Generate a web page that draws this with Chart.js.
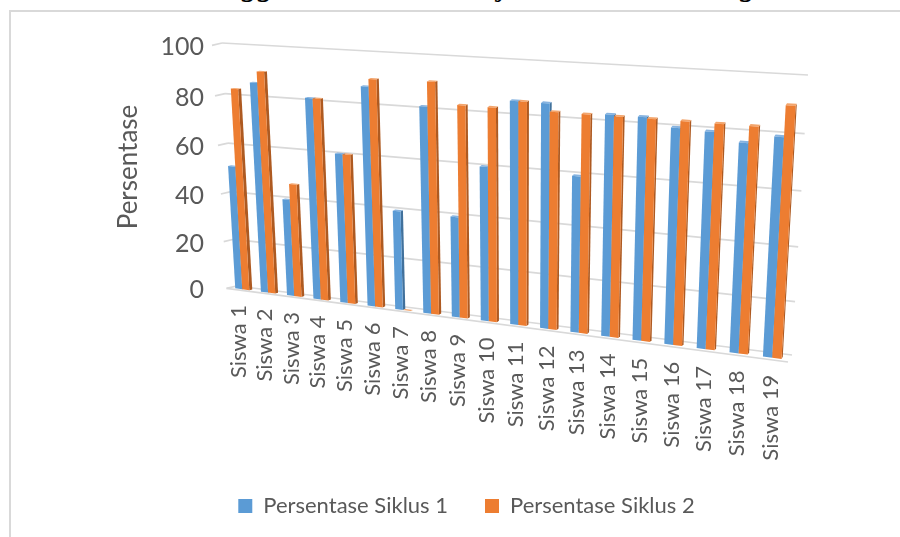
<!DOCTYPE html>
<html>
<head>
<meta charset="utf-8">
<script src="https://cdn.jsdelivr.net/npm/chart.js@4.4.1/dist/chart.umd.min.js"></script>
<style>
  html, body { margin: 0; padding: 0; width: 900px; height: 537px; overflow: hidden; background: #fff; }
  #frame { position: absolute; left: 9px; top: 10px; width: 1000px; height: 1000px;
           border-left: 2px solid #d9d9d9; border-top: 2px solid #d9d9d9; }
  #caption { position: absolute; left: 192px; top: -32px; font: italic 32px "Liberation Serif", serif;
             line-height: 32px; color: #000; white-space: nowrap; }
  canvas { position: absolute; left: 0; top: 0; }
</style>
</head>
<body>
<div id="caption">Penggunaan Model Project Based Learning</div>
<div id="frame"></div>
<canvas id="chart" width="900" height="537"></canvas>
<script>
// ---- data ----
const categories = ['Siswa 1', 'Siswa 2', 'Siswa 3', 'Siswa 4', 'Siswa 5', 'Siswa 6', 'Siswa 7',
  'Siswa 8', 'Siswa 9', 'Siswa 10', 'Siswa 11', 'Siswa 12', 'Siswa 13', 'Siswa 14', 'Siswa 15',
  'Siswa 16', 'Siswa 17', 'Siswa 18', 'Siswa 19'];
const siklus1 = [51.5, 86, 40, 81.5, 60.5, 87.5, 40, 81.5, 40, 60.5, 86, 86, 60, 83.5, 83.5, 80.5, 80, 77, 80];
const siklus2 = [83, 90.5, 46.5, 81.5, 60.5, 90.5, 0, 91, 83, 83, 86, 83, 83, 83, 83, 83, 83, 83, 91];
const yTicks = [0, 20, 40, 60, 80, 100];
const seriesNames = ['Persentase Siklus 1', 'Persentase Siklus 2'];
const axisTitle = 'Persentase';

// ---- 3-D view: back wall corners on screen and depth vectors (back -> front) ----
const wall = { tl: [222, 43], tr: [808, 75], br: [792, 355], bl: [236.5, 286] };
const depthLeft = [-10, 2.3], depthRight = [-4, 7];
const barBack = 0.4, barFront = 0.7;   // bar slab position in the floor depth

const faces = [
  { front: '#5b9bd5', side: '#41719c', top: '#86b3e0' },
  { front: '#ed7d31', side: '#ae5a21', top: '#f3a56c' }
];
const textColor = '#595959';
const gridColor = '#d9d9d9';

function homography(p0, p1, p2, p3) {
  const dx1 = p1[0] - p2[0], dx2 = p3[0] - p2[0], dx3 = p0[0] - p1[0] + p2[0] - p3[0];
  const dy1 = p1[1] - p2[1], dy2 = p3[1] - p2[1], dy3 = p0[1] - p1[1] + p2[1] - p3[1];
  const den = dx1 * dy2 - dx2 * dy1;
  const g = (dx3 * dy2 - dx2 * dy3) / den, h = (dx1 * dy3 - dx3 * dy1) / den;
  const a = p1[0] - p0[0] + g * p1[0], b = p3[0] - p0[0] + h * p3[0], c = p0[0];
  const d = p1[1] - p0[1] + g * p1[1], e = p3[1] - p0[1] + h * p3[1], f = p0[1];
  return (u, v) => { const w = g * u + h * v + 1; return [(a * u + b * v + c) / w, (d * u + e * v + f) / w]; };
}
const H = homography(wall.tl, wall.tr, wall.br, wall.bl);
// u: along categories (0..1), v: top (0) to floor (1), w: depth from wall (0) to front (1)
function P(u, v, w) {
  const q = H(u, v);
  const dx = depthLeft[0] + (depthRight[0] - depthLeft[0]) * u;
  const dy = depthLeft[1] + (depthRight[1] - depthLeft[1]) * u;
  return [q[0] + w * dx, q[1] + w * dy];
}

function poly(ctx, pts, fill) {
  ctx.beginPath();
  ctx.moveTo(pts[0][0], pts[0][1]);
  for (let i = 1; i < pts.length; i++) ctx.lineTo(pts[i][0], pts[i][1]);
  ctx.closePath();
  ctx.fillStyle = fill;
  ctx.fill();
}
function seg(ctx, a, b) {
  ctx.beginPath(); ctx.moveTo(a[0], a[1]); ctx.lineTo(b[0], b[1]); ctx.stroke();
}

// Re-projects the flat chart area (scales + bar elements) onto the 3-D wall/floor
const perspective = {
  id: 'perspective',
  beforeDatasetsDraw(chart) {
    const { ctx, chartArea: ca, scales } = chart;
    const xs = scales.x, ys = scales.y;
    const U = px => (px - ca.left) / (ca.right - ca.left);
    const V = py => (py - ca.top) / (ca.bottom - ca.top);
    ctx.save();

    // walls: gridlines on side wall and back wall, floor front edge
    ctx.strokeStyle = gridColor;
    ctx.lineWidth = 1.7;
    yTicks.forEach(t => {
      const v = V(ys.getPixelForValue(t));
      seg(ctx, P(0, v, 1), P(0, v, 0));
      seg(ctx, P(0, v, 0), P(1, v, 0));
    });
    seg(ctx, P(0, 1, 1), P(1, 1, 1));

    // bars
    const metas = chart.data.datasets.map((d, i) => chart.getDatasetMeta(i));
    categories.forEach((c, i) => {
      metas.forEach((meta, di) => {
        const el = meta.data[i];
        const u0 = U(el.x - el.width / 2), u1 = U(el.x + el.width / 2);
        const vt = V(el.y), vb = V(el.base);
        const col = faces[di];
        poly(ctx, [P(u1, vb, barFront), P(u1, vb, barBack), P(u1, vt, barBack), P(u1, vt, barFront)], col.side);
        poly(ctx, [P(u0, vt, barFront), P(u1, vt, barFront), P(u1, vt, barBack), P(u0, vt, barBack)], col.top);
        if (vb - vt > 0.0005) {
          poly(ctx, [P(u0, vb, barFront), P(u1, vb, barFront), P(u1, vt, barFront), P(u0, vt, barFront)], col.front);
        }
      });
    });

    // value axis labels
    ctx.fillStyle = textColor;
    ctx.font = '25px Lato';
    ctx.textAlign = 'right';
    ctx.textBaseline = 'middle';
    yTicks.forEach(t => {
      const p = P(0, V(ys.getPixelForValue(t)), 1);
      ctx.fillText(String(t), 204, p[1] + 2);
    });

    // value axis title
    ctx.save();
    ctx.translate(129, 167);
    ctx.rotate(-Math.PI / 2);
    ctx.textAlign = 'center';
    ctx.font = '26px Lato';
    ctx.fillText(axisTitle, 0, 0);
    ctx.restore();

    // category labels along the floor front edge
    ctx.font = '22px Lato';
    categories.forEach((c, i) => {
      const p = P(U(xs.getPixelForValue(i)), 1, 1);
      ctx.save();
      ctx.translate(p[0], p[1] + 15);
      ctx.rotate(-Math.PI / 2);
      ctx.textAlign = 'right';
      ctx.textBaseline = 'middle';
      ctx.fillText(c, 0, 0);
      ctx.restore();
    });

    ctx.restore();
    return false;
  }
};

new Chart(document.getElementById('chart'), {
  type: 'bar',
  data: {
    labels: categories,
    datasets: [
      { label: seriesNames[0], data: siklus1, backgroundColor: faces[0].front },
      { label: seriesNames[1], data: siklus2, backgroundColor: faces[1].front }
    ]
  },
  options: {
    responsive: false,
    animation: false,
    layout: { padding: { left: 33, right: 0, top: 0, bottom: 10 } },
    datasets: { bar: { categoryPercentage: 0.55, barPercentage: 1 } },
    scales: {
      x: { display: false },
      y: { display: false, min: 0, max: 100 }
    },
    plugins: {
      legend: {
        position: 'bottom',
        labels: { boxWidth: 14, boxHeight: 14, padding: 37, color: textColor, font: { family: 'Lato', size: 22 } }
      },
      tooltip: { enabled: false }
    }
  },
  plugins: [perspective]
});
</script>
</body>
</html>
